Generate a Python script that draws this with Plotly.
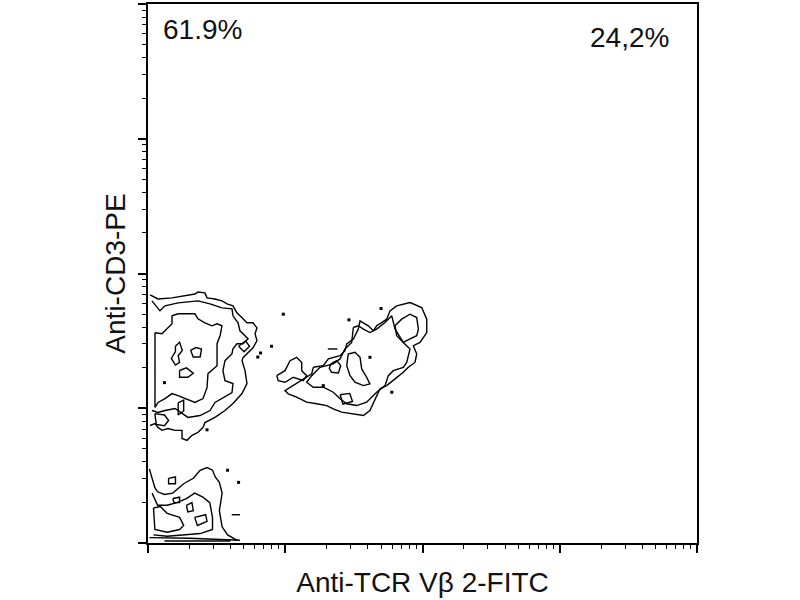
"""
Flow cytometry contour plot: Anti-TCR Vb2-FITC vs Anti-CD3-PE
Contour outlines are read off the reference, in log10 (decade) units.
"""

import plotly.graph_objects as go

FONT = "Liberation Sans, Arial, sans-serif"

# quadrant percentages
PCT_UPPER_LEFT = "61.9%"
PCT_UPPER_RIGHT = "24,2%"

# ---- left (CD3+ Vb2-) cluster, decades (log10 FITC, log10 PE) ----
LEFT_OUTER = [(0.015, 1.841), (0.073, 1.811), (0.175, 1.819), (0.342, 1.848), (0.364, 1.863),
              (0.415, 1.856), (0.430, 1.819), (0.488, 1.811), (0.539, 1.797), (0.576, 1.775),
              (0.619, 1.760), (0.648, 1.708), (0.685, 1.671), (0.721, 1.634), (0.765, 1.634),
              (0.794, 1.597), (0.780, 1.553), (0.794, 1.501), (0.765, 1.449), (0.729, 1.412),
              (0.692, 1.375), (0.685, 1.353), (0.707, 1.279), (0.721, 1.183), (0.685, 1.109),
              (0.619, 1.035), (0.561, 0.983), (0.488, 0.932), (0.415, 0.894), (0.401, 0.858),
              (0.364, 0.821), (0.321, 0.799), (0.284, 0.762), (0.248, 0.776), (0.248, 0.836),
              (0.197, 0.836), (0.146, 0.850), (0.102, 0.836), (0.073, 0.858), (0.051, 0.887),
              (0.015, 0.872)]
LEFT_MID = [(0.029, 1.797), (0.087, 1.723), (0.124, 1.760), (0.219, 1.782), (0.364, 1.797),
            (0.452, 1.775), (0.539, 1.745), (0.612, 1.738), (0.619, 1.686), (0.656, 1.634),
            (0.670, 1.575), (0.707, 1.538), (0.729, 1.516), (0.692, 1.479), (0.648, 1.479),
            (0.619, 1.442), (0.612, 1.405), (0.561, 1.353), (0.546, 1.279), (0.561, 1.205),
            (0.619, 1.183), (0.612, 1.116), (0.546, 1.080), (0.488, 1.043), (0.452, 0.983),
            (0.379, 0.946), (0.291, 0.932), (0.248, 0.961), (0.197, 0.998), (0.124, 0.983),
            (0.073, 0.969), (0.029, 0.983)]
LEFT_INNER = [(0.051, 1.560), (0.102, 1.553), (0.175, 1.627), (0.175, 1.686), (0.219, 1.701),
              (0.342, 1.701), (0.364, 1.664), (0.415, 1.634), (0.466, 1.612), (0.503, 1.627),
              (0.539, 1.612), (0.525, 1.538), (0.503, 1.479), (0.503, 1.316), (0.437, 1.257),
              (0.430, 1.153), (0.401, 1.072), (0.342, 1.043), (0.219, 1.094), (0.175, 1.109),
              (0.124, 1.072), (0.073, 1.043), (0.051, 1.006), (0.051, 1.279)]
LEFT_BLOBS = [
    [(0.20, 1.46), (0.23, 1.49), (0.25, 1.43), (0.22, 1.39), (0.23, 1.34),
     (0.20, 1.32), (0.17, 1.37), (0.20, 1.42)],
    [(0.31, 1.43), (0.35, 1.45), (0.39, 1.44), (0.38, 1.38), (0.33, 1.38)],
    [(0.23, 1.28), (0.28, 1.30), (0.33, 1.26), (0.29, 1.23), (0.23, 1.23)],
    [(0.05, 0.96), (0.12, 0.95), (0.15, 0.91), (0.12, 0.87), (0.06, 0.88)],
    [(0.22, 1.04), (0.26, 1.06), (0.26, 0.98), (0.22, 0.95)],
    [(0.66, 1.46), (0.71, 1.50), (0.74, 1.46), (0.70, 1.42)],
]

# ---- bottom (CD3- Vb2-) cluster ----
LOW_OUTER = [(0.01, 0.55), (0.05, 0.41), (0.07, 0.38), (0.12, 0.36), (0.18, 0.37),
             (0.26, 0.44), (0.33, 0.48), (0.38, 0.54), (0.43, 0.56), (0.47, 0.54),
             (0.49, 0.49), (0.52, 0.45), (0.54, 0.37), (0.52, 0.24), (0.54, 0.12),
             (0.58, 0.06), (0.65, 0.02)]
LOW_MID = [(0.03, 0.37), (0.07, 0.28), (0.14, 0.28), (0.21, 0.30), (0.28, 0.33),
           (0.34, 0.37), (0.40, 0.34), (0.45, 0.30), (0.47, 0.19), (0.47, 0.10),
           (0.38, 0.07), (0.26, 0.06), (0.14, 0.05), (0.04, 0.06)]
LOW_INNER = [(0.04, 0.26), (0.09, 0.27), (0.14, 0.22), (0.23, 0.19), (0.26, 0.13),
             (0.23, 0.10), (0.14, 0.08), (0.05, 0.10)]
LOW_BLOBS = [
    [(0.15, 0.48), (0.20, 0.49), (0.20, 0.44), (0.15, 0.44)],
    [(0.18, 0.33), (0.23, 0.34), (0.23, 0.30), (0.19, 0.30)],
    [(0.28, 0.28), (0.32, 0.30), (0.33, 0.24), (0.29, 0.23)],
    [(0.34, 0.19), (0.42, 0.21), (0.43, 0.16), (0.36, 0.13)],
]
LOW_STROKES = [
    [(0.01, 0.04), (0.30, 0.035), (0.67, 0.02)],
    [(0.12, 0.015), (0.60, 0.015)],
    [(0.61, 0.21), (0.67, 0.21)],
]

# ---- middle (CD3+ Vb2+) cluster ----
MID_LOBE = [(0.938, 1.242), (0.998, 1.279), (1.035, 1.353), (1.083, 1.378), (1.120, 1.340),
            (1.120, 1.279), (1.156, 1.242), (1.131, 1.205), (1.059, 1.230), (0.998, 1.193),
            (0.949, 1.205)]
MID_OUTER = [(1.204, 1.304), (1.277, 1.316), (1.314, 1.366), (1.399, 1.390), (1.435, 1.427),
             (1.448, 1.477), (1.496, 1.514), (1.532, 1.587), (1.545, 1.649), (1.605, 1.612),
             (1.642, 1.575), (1.666, 1.612), (1.703, 1.636), (1.739, 1.661), (1.763, 1.723),
             (1.812, 1.760), (1.909, 1.784), (1.994, 1.747), (2.031, 1.661), (2.031, 1.562),
             (1.982, 1.488), (1.933, 1.464), (1.958, 1.403), (1.945, 1.340), (1.897, 1.304),
             (1.860, 1.267), (1.800, 1.218), (1.739, 1.168), (1.690, 1.144), (1.666, 1.094),
             (1.642, 1.045), (1.617, 0.983), (1.569, 0.946), (1.472, 0.959), (1.411, 0.971),
             (1.350, 0.996), (1.302, 1.020), (1.229, 1.033), (1.156, 1.045), (1.083, 1.082),
             (1.022, 1.107), (0.998, 1.131), (1.059, 1.168), (1.131, 1.218), (1.193, 1.255)]
MID_SECOND = [(1.496, 1.599), (1.484, 1.488), (1.435, 1.440), (1.399, 1.366), (1.350, 1.329),
              (1.253, 1.304), (1.193, 1.242), (1.156, 1.193), (1.204, 1.156), (1.277, 1.156),
              (1.350, 1.119), (1.399, 1.070), (1.448, 1.033), (1.521, 1.020), (1.593, 1.045),
              (1.617, 1.070), (1.666, 1.119), (1.727, 1.168), (1.751, 1.242), (1.787, 1.279),
              (1.860, 1.304), (1.885, 1.340), (1.909, 1.440), (1.860, 1.488), (1.800, 1.587),
              (1.776, 1.686), (1.727, 1.636), (1.666, 1.587), (1.617, 1.562), (1.569, 1.587),
              (1.532, 1.612)]
MID_CAP = [(1.800, 1.612), (1.848, 1.661), (1.909, 1.698), (1.958, 1.673), (1.970, 1.587),
           (1.958, 1.538), (1.909, 1.514), (1.860, 1.489), (1.812, 1.538)]
MID_CORE = [(1.459, 1.403), (1.508, 1.415), (1.545, 1.378), (1.557, 1.292), (1.593, 1.230),
            (1.617, 1.181), (1.569, 1.168), (1.508, 1.193), (1.472, 1.242), (1.448, 1.316)]
MID_BLOBS = [
    [(1.331, 1.329), (1.375, 1.353), (1.404, 1.316), (1.387, 1.262), (1.338, 1.267),
     (1.321, 1.296)],
    [(1.40, 1.10), (1.47, 1.11), (1.49, 1.05), (1.42, 1.03)],
]
MID_STROKES = [
    [(1.31, 1.44), (1.38, 1.44)],
]

# isolated events
DOT_X = [0.986, 1.464, 1.698, 1.617, 1.776, 1.277, 0.90, 0.82, 0.80, 0.66, 0.58, 0.12, 0.43]
DOT_Y = [1.698, 1.656, 1.740, 1.378, 1.119, 1.168, 1.46, 1.41, 1.38, 0.45, 0.54, 1.19, 0.84]


def add_path(fig, pts, closed=True):
    if closed:
        pts = pts + [pts[0]]
    fig.add_trace(
        go.Scatter(
            x=[10 ** p[0] for p in pts],
            y=[10 ** p[1] for p in pts],
            mode='lines',
            line=dict(color='black', width=1.4),
            showlegend=False,
            hoverinfo='skip'
        )
    )


fig = go.Figure()

closed_paths = ([LEFT_INNER] + LEFT_BLOBS + [LOW_INNER] + LOW_BLOBS +
                [MID_LOBE, MID_OUTER, MID_SECOND, MID_CAP, MID_CORE] + MID_BLOBS)
for path in closed_paths:
    add_path(fig, path)

# contours that run into the axes stay open
for path in [LEFT_OUTER, LEFT_MID, LOW_OUTER, LOW_MID] + LOW_STROKES + MID_STROKES:
    add_path(fig, path, closed=False)

fig.add_trace(
    go.Scatter(
        x=[10 ** v for v in DOT_X],
        y=[10 ** v for v in DOT_Y],
        mode='markers',
        marker=dict(color='black', size=3, symbol='square'),
        showlegend=False,
        hoverinfo='skip'
    )
)

axis_style = dict(
    type='log',
    range=[0, 4],
    dtick=1,
    showgrid=False,
    zeroline=False,
    showline=True,
    linecolor='black',
    linewidth=2,
    mirror=True,
    ticks='outside',
    ticklen=8,
    tickwidth=1.5,
    tickcolor='black',
    showticklabels=False,
    minor=dict(ticks='outside', ticklen=4, tickwidth=1, tickcolor='black', dtick='D1'),
)

fig.update_xaxes(**axis_style,
                 title=dict(text='Anti-TCR V\u03b2 2-FITC', standoff=20,
                            font=dict(family=FONT, size=28, color='#111111')))
fig.update_yaxes(**axis_style,
                 title=dict(text='Anti-CD3-PE', standoff=4,
                            font=dict(family=FONT, size=28, color='#111111')))

fig.add_annotation(text=PCT_UPPER_LEFT, xref='paper', yref='paper', x=0.024, y=0.953,
                   xanchor='left', yanchor='middle', showarrow=False,
                   font=dict(family=FONT, size=28, color='#111111'))
fig.add_annotation(text=PCT_UPPER_RIGHT, xref='paper', yref='paper', x=0.953, y=0.938,
                   xanchor='right', yanchor='middle', showarrow=False,
                   font=dict(family=FONT, size=28, color='#111111'))

fig.update_layout(
    width=800,
    height=600,
    margin=dict(l=148, r=103, t=2, b=57),
    plot_bgcolor='white',
    paper_bgcolor='white',
)

# the page body keeps its default 8px margin otherwise
fig.write_html("out.html", config={'displayModeBar': False},
               post_script="document.body.style.margin = '0';")
